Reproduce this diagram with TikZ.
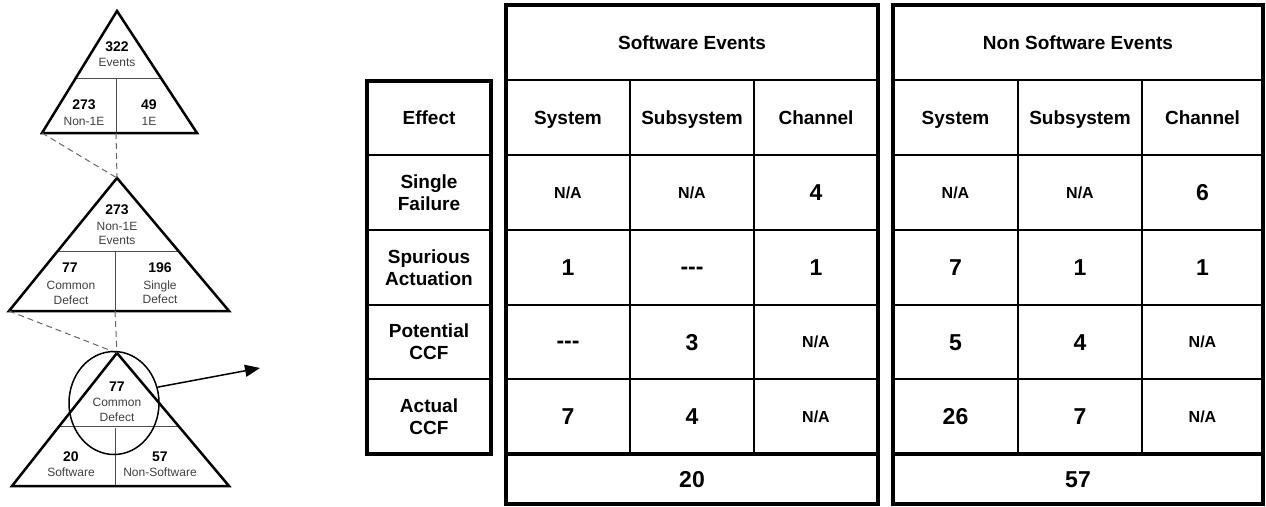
\documentclass[tikz,border=0pt]{standalone}
\usepackage{fontspec}
\setmainfont{Liberation Sans}
\usepackage{tikz}
\usetikzlibrary{calc, arrows.meta, shapes.geometric}

\tikzset{
  tri/.style={line width=2.5pt, line join=miter},
  split/.style={line width=1pt, black!70},
  link/.style={line width=1pt, black!60, dash pattern=on 6pt off 4pt},
  tnum/.style={font=\fontsize{14}{16}\selectfont\bfseries, inner sep=0pt},
  tlbl/.style={font=\fontsize{12}{14.5}\selectfont, text=black!75, inner sep=0pt, align=center},
  outer/.style={line width=3.5pt},
  rowline/.style={line width=2.5pt},
  colline/.style={line width=2pt},
  hdr/.style={font=\fontsize{19}{22}\selectfont\bfseries, align=center, inner sep=0pt},
  colhdr/.style={hdr, text height=13.6pt, text depth=0pt},
  num/.style={font=\fontsize{23}{26}\selectfont\bfseries, inner sep=0pt, text height=16.5pt, text depth=0pt},
}
\newcommand{\na}{\raisebox{2.5pt}{\fontsize{16}{18}\selectfont N/A}}
\newcommand{\nodash}{\raisebox{1.5pt}{-{}-{}-}}

\begin{document}
\begin{tikzpicture}[x=1pt, y=-1pt]
  \useasboundingbox (0,0) rectangle (1266,506);

  % triangles
  \coordinate (t1a) at (117,11);  \coordinate (t1l) at (42,133);  \coordinate (t1r) at (197,133);
  \coordinate (t2a) at (117,178); \coordinate (t2l) at (9,311);   \coordinate (t2r) at (229,311);
  \coordinate (t3a) at (117,353); \coordinate (t3l) at (12,486);  \coordinate (t3r) at (229,486);
  \foreach \t in {t1, t2, t3}
    \draw[split] ($(\t a)!0.55!(\t l)$) -- ($(\t a)!0.55!(\t r)$);
  \draw[split] (116,78) -- (116,133);
  \draw[split] (115,251) -- (115,311);
  \draw[split] (115,428) -- (115,486);
  \draw[tri] (t1a) -- (t1l) -- (t1r) -- cycle;
  \draw[tri] (t2a) -- (t2l) -- (t2r) -- cycle;
  \draw[tri] (t3a) -- (t3l) -- (t3r) -- cycle;

  \coordinate (t1m) at (116,133);
  \coordinate (t2m) at (115,311);
  \draw[link] (t1l) -- (t2a);
  \draw[link] (t1m) -- (t2a);
  \draw[link] (t2l) -- (t3a);
  \draw[link] (t2m) -- (t3a);

  \node[tnum] (allnum) at (117,47) {322};
  \node[tlbl] (alllbl) at (117,62) {Events};
  \node[tnum] (nonenum) at (84,105) {273};
  \node[tlbl] (nonelbl) at (84,121) {Non-1E};
  \node[tnum] (onenum) at (149,105) {49};
  \node[tlbl] (onelbl) at (149,121) {1E};

  \node[tnum] (nonnum) at (117,210) {273};
  \node[tlbl] (nonlbl) at (117,233.5) {Non-1E\\Events};
  \node[tnum] (comnum) at (70,268) {77};
  \node[tlbl] (comlbl) at (71,293) {Common\\Defect};
  \node[tnum] (sglnum) at (160,268) {196};
  \node[tlbl] (sgllbl) at (160,292) {Single\\Defect};

  \node[tnum] (ccfnum) at (117,387) {77};
  \node[tlbl] (ccflbl) at (117,410) {Common\\Defect};
  \node[tnum] (swnum) at (71,457) {20};
  \node[tlbl] (swlbl) at (71,472) {Software};
  \node[tnum] (nswnum) at (160,457) {57};
  \node[tlbl] (nswlbl) at (160,472) {Non-Software};

  \node[draw, ellipse, line width=1.5pt, minimum width=90pt, minimum height=103pt, inner sep=0pt] (focus) at (114,403) {};
  \coordinate (tip) at (260,368);
  \draw[line width=1.5pt, -{Triangle[length=15pt, width=12pt]}] (focus.20) -- (tip);

  % effect table
  \draw[outer] (367,81) rectangle (491,454);
  \foreach \y in {155, 230, 305, 379}
    \draw[rowline] (367,\y) -- (491,\y);
  \node[colhdr] (effect) at (429,117.5) {Effect};
  \node[hdr] (single) at (429,192.5) {Single\\Failure};
  \node[hdr] (spur) at (429,267.5) {Spurious\\Actuation};
  \node[hdr] (potccf) at (429,342) {Potential\\CCF};
  \node[hdr] (actccf) at (429,416.5) {Actual\\CCF};

  % event tables
  \foreach \xa/\xb/\xc/\xd in {506/630/754/878, 893/1018/1142/1263} {
    \draw[outer] (\xa,5) rectangle (\xd,504);
    \foreach \y in {80, 155, 230, 305, 379}
      \draw[rowline] (\xa,\y) -- (\xd,\y);
    \draw[outer] (\xa,454) -- (\xd,454);
    \draw[colline] (\xb,80) -- (\xb,454);
    \draw[colline] (\xc,80) -- (\xc,454);
  }
  \node[colhdr] (swhead) at (692,42.5) {Software Events};
  \node[colhdr] (nswhead) at (1078,42.5) {Non Software Events};
  \node[colhdr] (swsys) at (568,117.5) {System};
  \node[colhdr] (swsub) at (692,117.5) {Subsystem};
  \node[colhdr] (swchn) at (816,117.5) {Channel};
  \node[colhdr] (nswsys) at (955.5,117.5) {System};
  \node[colhdr] (nswsub) at (1080,117.5) {Subsystem};
  \node[colhdr] (nswchn) at (1202.5,117.5) {Channel};

  \foreach \y/\a/\b/\c/\d/\e/\f [count=\i] in {192.5/\na/\na/4/\na/\na/6,
      267.5/1/\nodash/1/7/1/1, 342/\nodash/3/\na/5/4/\na, 416.5/7/4/\na/26/7/\na} {
    \node[num] (sw\i a) at (568,\y) {\a};
    \node[num] (sw\i b) at (692,\y) {\b};
    \node[num] (sw\i c) at (816,\y) {\c};
    \node[num] (nsw\i a) at (955.5,\y) {\d};
    \node[num] (nsw\i b) at (1080,\y) {\e};
    \node[num] (nsw\i c) at (1202.5,\y) {\f};
  }
  \node[num] (swtotal) at (692,479) {20};
  \node[num] (nswtotal) at (1078,479) {57};
\end{tikzpicture}
\end{document}
